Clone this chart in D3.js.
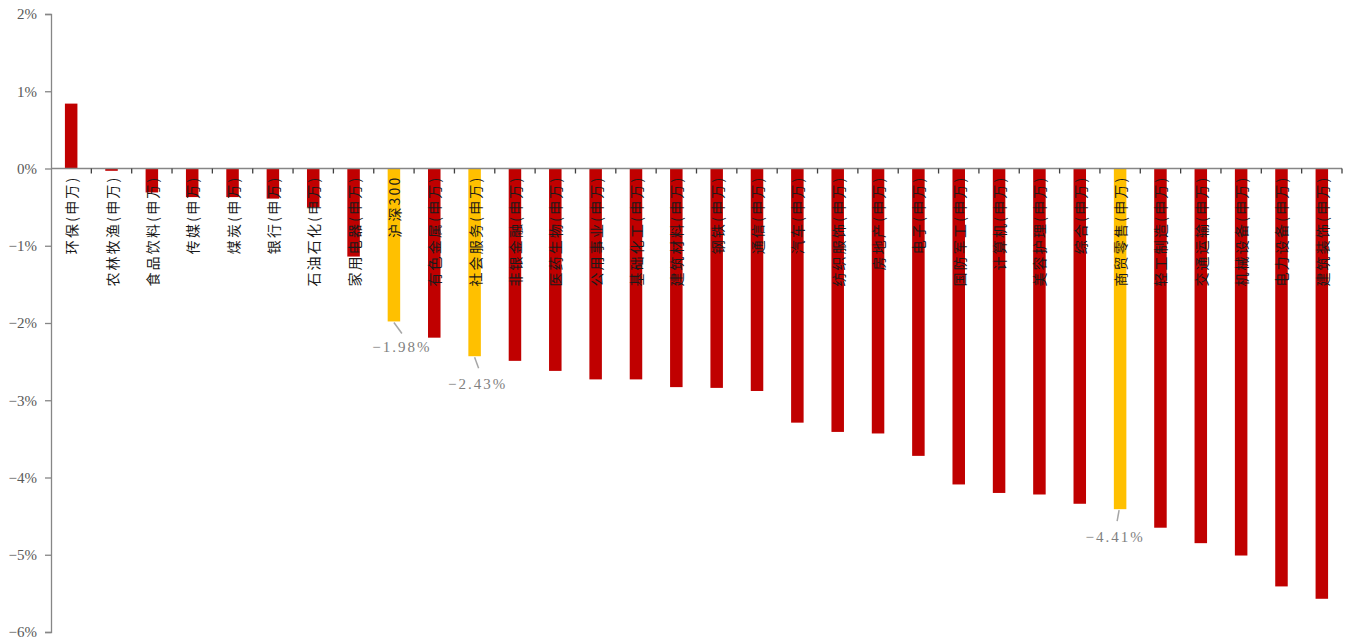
<!DOCTYPE html>
<html>
<head>
<meta charset="utf-8">
<script src="https://cdn.jsdelivr.net/npm/d3@7"></script>
<style>
  html, body { margin: 0; padding: 0; background: #ffffff; }
  svg { display: block; }
</style>
</head>
<body>
<svg id="chart" width="1350" height="643"></svg>
<script>
// ---- data ----
const categories = [
  "环保(申万)", "农林牧渔(申万)", "食品饮料(申万)", "传媒(申万)", "煤炭(申万)",
  "银行(申万)", "石油石化(申万)", "家用电器(申万)", "沪深300", "有色金属(申万)",
  "社会服务(申万)", "非银金融(申万)", "医药生物(申万)", "公用事业(申万)", "基础化工(申万)",
  "建筑材料(申万)", "钢铁(申万)", "通信(申万)", "汽车(申万)", "纺织服饰(申万)",
  "房地产(申万)", "电子(申万)", "国防军工(申万)", "计算机(申万)", "美容护理(申万)",
  "综合(申万)", "商贸零售(申万)", "轻工制造(申万)", "交通运输(申万)", "机械设备(申万)",
  "电力设备(申万)", "建筑装饰(申万)"
];
const values = [
  0.84, -0.03, -0.31, -0.37, -0.37,
  -0.39, -0.50, -1.14, -1.98, -2.19,
  -2.43, -2.49, -2.62, -2.73, -2.73,
  -2.83, -2.84, -2.88, -3.29, -3.41,
  -3.43, -3.72, -4.09, -4.20, -4.22,
  -4.34, -4.41, -4.65, -4.85, -5.01,
  -5.41, -5.57
];
const highlighted = ["沪深300", "社会服务(申万)", "商贸零售(申万)"];
const yTicks = [2, 1, 0, -1, -2, -3, -4, -5, -6];
const yDomain = [-6, 2];

// callout label offsets (styling): [lineStartDx, lineEndDx, textDx, textDy]
const calloutOffsets = {
  "沪深300": [0, 8, 8, 31],
  "社会服务(申万)": [0, 4, 3, 33],
  "商贸零售(申万)": [-1, -3, -5, 33]
};

// ---- layout ----
const mLeft = 51, mRight = 1342, mTop = 14, mBottom = 632;
const svg = d3.select("#chart");

const x = d3.scaleBand().domain(categories).range([mLeft, mRight]).paddingInner(0.69).paddingOuter(0.345);
const xb = d3.scaleBand().domain(categories).range([mLeft, mRight]);
const y = d3.scaleLinear().domain(yDomain).range([mBottom, mTop]);

const data = categories.map((c, i) => ({ cat: c, v: values[i], hl: highlighted.includes(c) }));

// bars
svg.append("g").selectAll("rect").data(data).join("rect")
  .attr("x", d => x(d.cat))
  .attr("width", x.bandwidth())
  .attr("y", d => Math.min(y(0), y(d.v)))
  .attr("height", d => Math.abs(y(d.v) - y(0)))
  .attr("fill", d => d.hl ? "#FFC000" : "#C00000");

// y axis
const yAxis = d3.axisLeft(y).tickValues(yTicks).tickSize(6).tickPadding(8)
  .tickFormat(d => (d < 0 ? "\u2212" + Math.abs(d) : d) + "%");
const gy = svg.append("g").attr("transform", `translate(${mLeft},0)`).call(yAxis);
gy.select(".domain").attr("stroke", "#868686").attr("stroke-width", 1.3);
gy.selectAll(".tick line").attr("stroke", "#868686").attr("stroke-width", 1.3);
gy.selectAll(".tick text")
  .attr("fill", "#595959")
  .style("font-family", "'Liberation Serif', 'Times New Roman', serif")
  .style("font-size", "15px");

// x axis line at zero with ticks at band boundaries
const gx = svg.append("g");
gx.append("line")
  .attr("x1", mLeft).attr("x2", mRight)
  .attr("y1", y(0)).attr("y2", y(0))
  .attr("stroke", "#868686").attr("stroke-width", 1.3);
const boundaries = categories.map(c => xb(c)).concat([mRight]).slice(1);
gx.selectAll("line.tk").data(boundaries).join("line")
  .attr("class", "tk")
  .attr("x1", d => d).attr("x2", d => d)
  .attr("y1", y(0)).attr("y2", y(0) + 5)
  .attr("stroke", "#404040").attr("stroke-width", 1.3);

// category labels, rotated, starting just below the zero line
svg.append("g").selectAll("text").data(data).join("text")
  .attr("transform", d => `translate(${x(d.cat) + x.bandwidth() / 2},${y(0) + 7}) rotate(-90)`)
  .attr("text-anchor", "end")
  .attr("dominant-baseline", "central")
  .attr("fill", "#1a1a1a")
  .style("font-family", "'Noto Sans CJK SC', sans-serif")
  .style("font-size", "14px")
  .style("letter-spacing", "2.2px")
  .text(d => d.cat);

// callouts for highlighted bars
const callouts = data.filter(d => d.hl);
const gc = svg.append("g");
callouts.forEach(d => {
  const o = calloutOffsets[d.cat];
  const cx = x(d.cat) + x.bandwidth() / 2;
  const yv = y(d.v);
  gc.append("line")
    .attr("x1", cx + o[0]).attr("y1", yv + 1)
    .attr("x2", cx + o[1]).attr("y2", yv + 12)
    .attr("stroke", "#a6a6a6").attr("stroke-width", 1.5);
  gc.append("text")
    .attr("x", cx + o[2]).attr("y", yv + o[3])
    .attr("text-anchor", "middle")
    .attr("fill", "#7f7f7f")
    .style("font-family", "'Liberation Serif', 'Times New Roman', serif")
    .style("font-size", "15px")
    .style("letter-spacing", "2px")
    .text("\u2212" + Math.abs(d.v).toFixed(2) + "%");
});
</script>
</body>
</html>
